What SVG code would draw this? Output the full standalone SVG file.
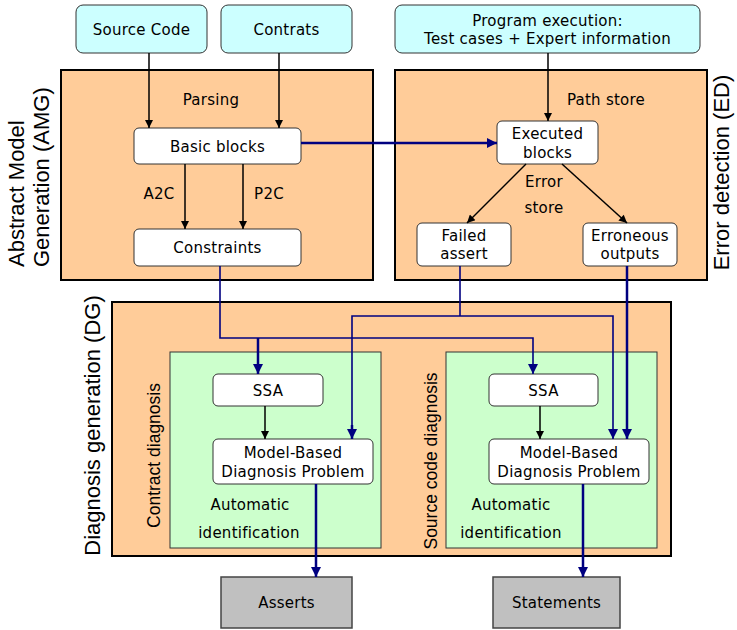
<svg xmlns="http://www.w3.org/2000/svg" width="737" height="630" viewBox="0 0 737 630">
<defs>
<marker id="ah" viewBox="0 0 10 10" refX="10" refY="5" markerWidth="9" markerHeight="8" markerUnits="userSpaceOnUse" orient="auto">
<path d="M0,0 L10,5 L0,10 z" fill="#000"/>
</marker>
<marker id="bh" viewBox="0 0 10 10" refX="10" refY="5" markerWidth="10" markerHeight="10" markerUnits="userSpaceOnUse" orient="auto">
<path d="M0,0 L10,5 L0,10 z" fill="#000080"/>
</marker>
<style>
.t{font-family:"DejaVu Sans",sans-serif;font-size:15px;letter-spacing:0.25px;fill:#000;text-anchor:middle}
.big{font-family:"Liberation Sans",Arial,sans-serif;font-size:22px;fill:#000}
.mid{font-family:"Liberation Sans",Arial,sans-serif;font-size:17.5px;fill:#000;text-anchor:middle}
.src{fill:#ccffff;stroke:#333;stroke-width:1}
.blk{fill:#fff;stroke:#333;stroke-width:1}
.area{fill:#ffcc99;stroke:#000;stroke-width:2}
.sub{fill:#ccffcc;stroke:#333;stroke-width:1}
.out{fill:#c0c0c0;stroke:#444;stroke-width:1.5}
.k{fill:none;stroke:#000;stroke-width:1.5;marker-end:url(#ah)}
.b{fill:none;stroke:#000080;stroke-width:1.6}
.bt{fill:none;stroke:#000080;stroke-width:2.5}
</style>
</defs>
<rect width="737" height="630" fill="#fff"/>

<g id="amg">
<rect class="area" x="61" y="70" width="312" height="210"/>
<text class="big" transform="translate(24,267) rotate(-90)">Abstract Model</text>
<text class="big" transform="translate(49,267) rotate(-90)">Generation (AMG)</text>
<text class="t" x="211" y="105">Parsing</text>
<text class="t" x="159" y="199">A2C</text>
<text class="t" x="269" y="199">P2C</text>
</g>
<g id="ed">
<rect class="area" x="395" y="70" width="312" height="210"/>
<text class="big" transform="translate(729,172.5) rotate(-90)" text-anchor="middle">Error detection (ED)</text>
<text class="t" x="606" y="105">Path store</text>
<text class="t" x="544" y="187">Error</text>
<text class="t" x="544" y="213">store</text>
</g>
<g id="dg">
<rect class="area" x="112" y="302" width="559" height="254"/>
<text class="big" transform="translate(100,425.5) rotate(-90)" text-anchor="middle">Diagnosis generation (DG)</text>
</g>
<g id="contract-diagnosis">
<rect class="sub" x="170" y="352" width="211" height="196"/>
<text class="mid" transform="translate(160,455.5) rotate(-90)">Contract diagnosis</text>
<text class="t" x="250" y="510">Automatic</text>
<text class="t" x="249" y="538">identification</text>
</g>
<g id="source-code-diagnosis">
<rect class="sub" x="446" y="352" width="211" height="196"/>
<text class="mid" transform="translate(437,461) rotate(-90)">Source code diagnosis</text>
<text class="t" x="511" y="510">Automatic</text>
<text class="t" x="511" y="538">identification</text>
</g>

<g id="source-code">
<rect class="src" x="76" y="5" width="131" height="48" rx="7"/>
<text class="t" x="141.5" y="34.5">Source Code</text>
</g>
<g id="contrats">
<rect class="src" x="221" y="5" width="131" height="48" rx="7"/>
<text class="t" x="286.5" y="34.5">Contrats</text>
</g>
<g id="program-execution">
<rect class="src" x="395" y="5" width="305" height="48" rx="7"/>
<text class="t" x="547.5" y="26">Program execution:</text>
<text class="t" x="547.5" y="44">Test cases + Expert information</text>
</g>
<g id="basic-blocks">
<rect class="blk" x="134" y="128" width="167" height="36" rx="5"/>
<text class="t" x="217.5" y="151.5">Basic blocks</text>
</g>
<g id="constraints">
<rect class="blk" x="134" y="229" width="167" height="37" rx="5"/>
<text class="t" x="217.5" y="253">Constraints</text>
</g>
<g id="executed-blocks">
<rect class="blk" x="497" y="121" width="101" height="43" rx="5"/>
<text class="t" x="547.5" y="139">Executed</text>
<text class="t" x="547.5" y="158">blocks</text>
</g>
<g id="failed-assert">
<rect class="blk" x="417" y="223" width="94" height="43" rx="5"/>
<text class="t" x="464" y="241">Failed</text>
<text class="t" x="464" y="259">assert</text>
</g>
<g id="erroneous-outputs">
<rect class="blk" x="583" y="223" width="94" height="43" rx="5"/>
<text class="t" x="630" y="241">Erroneous</text>
<text class="t" x="630" y="259">outputs</text>
</g>
<g id="ssa-contract">
<rect class="blk" x="213" y="374" width="110" height="32" rx="5"/>
<text class="t" x="268" y="395.5">SSA</text>
</g>
<g id="mbd-contract">
<rect class="blk" x="213" y="439" width="160" height="45" rx="5"/>
<text class="t" x="293" y="458">Model-Based</text>
<text class="t" x="293" y="477">Diagnosis Problem</text>
</g>
<g id="ssa-source">
<rect class="blk" x="489" y="374" width="109" height="32" rx="5"/>
<text class="t" x="543.5" y="395.5">SSA</text>
</g>
<g id="mbd-source">
<rect class="blk" x="489" y="439" width="160" height="45" rx="5"/>
<text class="t" x="569" y="458">Model-Based</text>
<text class="t" x="569" y="477">Diagnosis Problem</text>
</g>
<g id="asserts">
<rect class="out" x="221" y="577" width="131" height="51"/>
<text class="t" x="286.5" y="608">Asserts</text>
</g>
<g id="statements">
<rect class="out" x="493" y="577" width="127" height="51"/>
<text class="t" x="556.5" y="608">Statements</text>
</g>

<g id="connectors">
<path class="k" d="M149,53 V128"/>
<path class="k" d="M279,53 V128"/>
<path class="k" d="M185,164 V229"/>
<path class="k" d="M243,164 V229"/>
<path class="k" d="M548,53 V121"/>
<path class="k" d="M526,164 L467,223"/>
<path class="k" d="M562,164 L627,223"/>
<path class="k" d="M265,406 V439"/>
<path class="k" d="M540,406 V439"/>
<path class="bt" d="M301,143 H497" marker-end="url(#bh)"/>
<path class="b" d="M220,266 V338 H533 V374" marker-end="url(#bh)"/>
<path class="bt" d="M258,338 V374" marker-end="url(#bh)"/>
<path class="b" d="M460,266 V316"/>
<path class="b" d="M352,439 V316 H613 V439" marker-end="url(#bh)"/>
<path class="bt" d="M352,425 V439" marker-end="url(#bh)"/>
<path class="bt" d="M627,266 V439" marker-end="url(#bh)"/>
<path class="bt" d="M316,484 V577" marker-end="url(#bh)"/>
<path class="bt" d="M583,484 V577" marker-end="url(#bh)"/>
</g>
</svg>
